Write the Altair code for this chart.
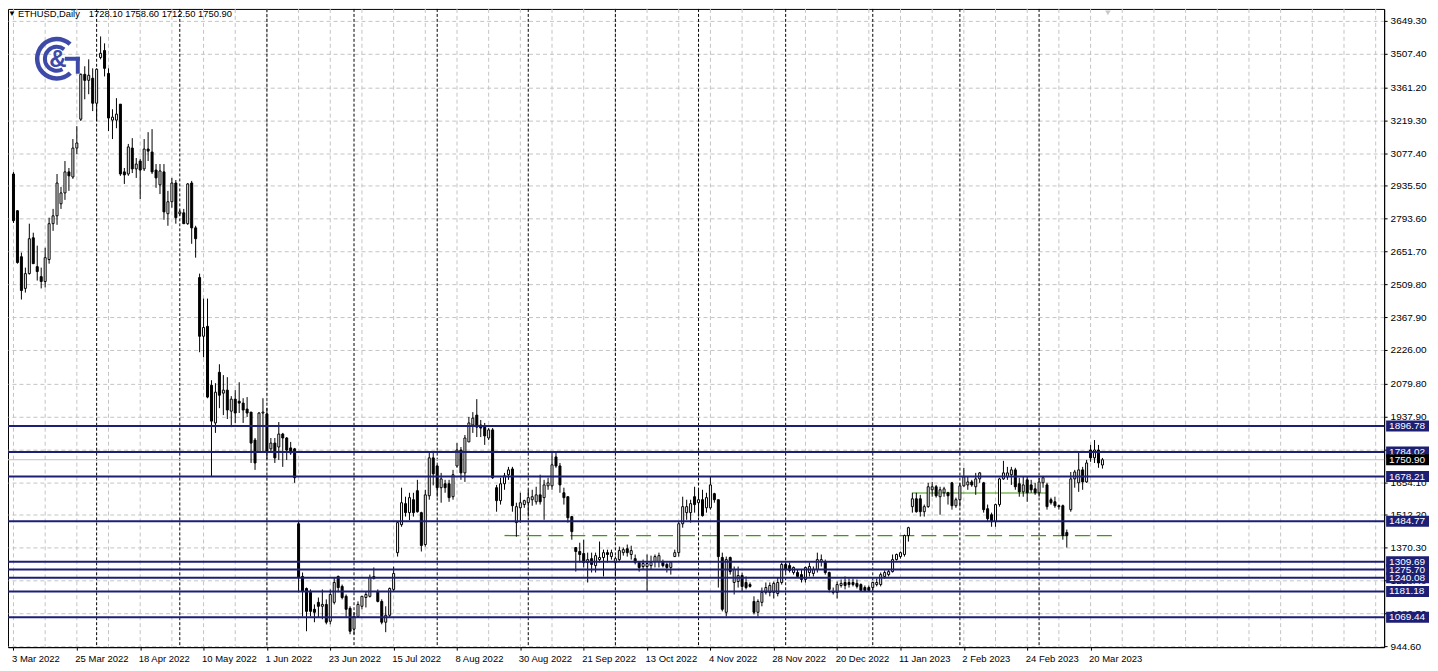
import altair as alt
import pandas as pd

# ---------------- data ----------------
header_symbol = "ETHUSD,Daily"
header_ohlc = "1728.10 1758.60 1712.50 1750.90"

opens = [2987, 2828, 2629, 2492, 2556, 2711, 2586, 2543, 2522, 2617,
         2772, 2806, 2858, 2905, 2996, 2974, 3099, 3224, 3418, 3392,
         3401, 3293, 3491, 3521, 3422, 3220, 3220, 3289, 2996, 2987,
         3099, 3009, 3043, 3009, 3095, 3082, 3004, 2940, 2996, 2815,
         2867, 2948, 2815, 2819, 2772, 2948, 2754, 2539, 2285, 2328,
         2073, 1910, 2129, 2039, 2052, 1961, 2013, 2004, 1996, 1970,
         1957, 1836, 1785, 1953, 1949, 1798, 1823, 1806, 1862, 1845,
         1802, 1798, 1474, 1246, 1194, 1177, 1104, 1134, 1117, 1125,
         1052, 1134, 1246, 1203, 1160, 1108, 1018, 1073, 1117, 1155,
         1160, 1237, 1181, 1138, 1048, 1078, 1190, 1349, 1470, 1561,
         1522, 1578, 1617, 1522, 1384, 1595, 1759, 1724, 1630, 1647,
         1647, 1591, 1724, 1793, 1694, 1828, 1901, 1944, 1901, 1892,
         1845, 1880, 1630, 1574, 1647, 1686, 1711, 1479, 1543, 1557,
         1565, 1578, 1569, 1599, 1587, 1638, 1638, 1763, 1724, 1608,
         1591, 1505, 1371, 1354, 1345, 1306, 1323, 1293, 1319, 1328,
         1349, 1332, 1306, 1319, 1349, 1366, 1341, 1323, 1306, 1289,
         1289, 1293, 1310, 1310, 1310, 1298, 1285, 1332, 1349, 1474,
         1522, 1522, 1591, 1565, 1578, 1543, 1543, 1604, 1578, 1328,
         1091, 1328, 1220, 1224, 1250, 1220, 1211, 1138, 1091, 1134,
         1177, 1177, 1177, 1172, 1220, 1298, 1293, 1263, 1263, 1254,
         1233, 1263, 1259, 1276, 1310, 1310, 1263, 1181, 1177, 1207,
         1220, 1220, 1220, 1216, 1211, 1198, 1198, 1198, 1211, 1211,
         1246, 1254, 1267, 1319, 1332, 1341, 1423, 1548, 1582, 1582,
         1526, 1548, 1621, 1634, 1591, 1608, 1608, 1651, 1552, 1578,
         1638, 1642, 1655, 1634, 1668, 1651, 1539, 1513, 1483, 1557,
         1668, 1677, 1686, 1707, 1647, 1612, 1664, 1642, 1625, 1608,
         1651, 1642, 1578, 1569, 1552, 1552, 1436, 1535, 1668, 1651,
         1707, 1655, 1793, 1759, 1793, 1728.10]

highs = [2995, 2830, 2647, 2582, 2772, 2733, 2677, 2582, 2668, 2798,
         2836, 2987, 2931, 3043, 3013, 3138, 3194, 3422, 3453, 3483,
         3444, 3444, 3582, 3552, 3444, 3267, 3315, 3289, 3013, 3117,
         3142, 3056, 3052, 3138, 3168, 3181, 3030, 3030, 3030, 2914,
         2970, 2961, 2832, 2836, 2948, 2957, 2763, 2556, 2448, 2448,
         2095, 2082, 2164, 2117, 2108, 2026, 2052, 2086, 2017, 2022,
         1957, 1845, 1957, 2017, 1974, 1845, 1845, 1914, 1867, 1849,
         1828, 1802, 1483, 1263, 1198, 1190, 1125, 1155, 1190, 1147,
         1190, 1242, 1250, 1211, 1168, 1117, 1091, 1138, 1160, 1181,
         1254, 1285, 1190, 1147, 1117, 1198, 1289, 1483, 1630, 1591,
         1608, 1608, 1664, 1526, 1621, 1780, 1785, 1729, 1694, 1664,
         1664, 1707, 1823, 1806, 1858, 1936, 1957, 2013, 1923, 1910,
         1888, 1888, 1642, 1673, 1694, 1720, 1720, 1565, 1608, 1578,
         1621, 1621, 1634, 1686, 1664, 1673, 1785, 1785, 1737, 1630,
         1591, 1505, 1371, 1392, 1405, 1349, 1349, 1349, 1397, 1362,
         1362, 1362, 1332, 1375, 1371, 1384, 1379, 1341, 1310, 1319,
         1341, 1336, 1341, 1349, 1319, 1306, 1310, 1362, 1483, 1591,
         1578, 1578, 1634, 1621, 1621, 1608, 1677, 1608, 1578, 1349,
         1332, 1332, 1289, 1289, 1263, 1246, 1220, 1160, 1147, 1198,
         1220, 1220, 1224, 1242, 1306, 1306, 1306, 1289, 1276, 1276,
         1289, 1306, 1289, 1349, 1341, 1319, 1267, 1198, 1224, 1233,
         1246, 1237, 1237, 1233, 1216, 1207, 1207, 1224, 1237, 1263,
         1272, 1276, 1341, 1345, 1354, 1427, 1461, 1608, 1608, 1599,
         1557, 1651, 1655, 1642, 1634, 1634, 1612, 1655, 1587, 1651,
         1716, 1677, 1664, 1694, 1698, 1655, 1557, 1522, 1561, 1673,
         1746, 1720, 1720, 1716, 1673, 1677, 1677, 1664, 1651, 1673,
         1677, 1651, 1587, 1591, 1557, 1557, 1449, 1698, 1707, 1785,
         1720, 1750, 1815, 1836, 1815, 1758.60]

lows = [2775, 2599, 2444, 2474, 2552, 2599, 2526, 2492, 2496, 2599,
        2741, 2767, 2836, 2875, 2914, 2966, 3073, 3216, 3310, 3332,
        3259, 3216, 3483, 3409, 3173, 3138, 3185, 2979, 2944, 2979,
        2991, 2970, 2879, 3000, 3043, 2987, 2927, 2900, 2789, 2763,
        2841, 2772, 2806, 2772, 2767, 2685, 2625, 2216, 2194, 2017,
        1677, 1867, 1974, 1944, 1927, 1892, 1910, 1953, 1910, 1936,
        1737, 1707, 1780, 1785, 1750, 1780, 1737, 1750, 1720, 1750,
        1772, 1651, 1177, 1073, 1009, 1073, 1048, 1069, 1061, 1039,
        1039, 1125, 1177, 1147, 1069, 996, 996, 1069, 1104, 1112,
        1155, 1233, 1134, 1039, 1005, 1069, 1181, 1332, 1461, 1505,
        1490, 1505, 1522, 1354, 1375, 1578, 1640, 1591, 1565, 1608,
        1569, 1578, 1716, 1664, 1655, 1828, 1867, 1849, 1849, 1815,
        1836, 1668, 1526, 1557, 1621, 1664, 1526, 1418, 1479, 1543,
        1505, 1552, 1557, 1557, 1491, 1621, 1621, 1716, 1608, 1557,
        1479, 1405, 1267, 1306, 1285, 1220, 1263, 1263, 1306, 1246,
        1306, 1319, 1246, 1310, 1336, 1332, 1319, 1298, 1267, 1276,
        1181, 1276, 1285, 1285, 1285, 1263, 1254, 1332, 1332, 1457,
        1491, 1479, 1522, 1505, 1505, 1522, 1535, 1565, 1198, 1095,
        1073, 1254, 1168, 1198, 1181, 1190, 1198, 1082, 1073, 1117,
        1168, 1160, 1151, 1160, 1211, 1263, 1263, 1254, 1242, 1220,
        1220, 1246, 1246, 1263, 1289, 1254, 1177, 1168, 1151, 1198,
        1190, 1198, 1203, 1194, 1181, 1181, 1181, 1181, 1203, 1203,
        1237, 1246, 1263, 1315, 1323, 1332, 1397, 1522, 1522, 1505,
        1505, 1543, 1591, 1587, 1513, 1591, 1557, 1535, 1543, 1548,
        1634, 1621, 1634, 1599, 1651, 1522, 1483, 1461, 1461, 1548,
        1664, 1664, 1642, 1621, 1591, 1591, 1569, 1608, 1599, 1591,
        1630, 1535, 1557, 1543, 1535, 1405, 1371, 1526, 1630, 1612,
        1621, 1651, 1742, 1737, 1716, 1712.50]

closes = [2785, 2604, 2483, 2556, 2707, 2599, 2565, 2522, 2625, 2772,
          2806, 2948, 2905, 2996, 2979, 3099, 3121, 3418, 3392, 3414,
          3293, 3440, 3509, 3444, 3229, 3233, 3246, 2987, 2983, 3104,
          3009, 3030, 3004, 3095, 3086, 2996, 2970, 3000, 2823, 2867,
          2948, 2798, 2823, 2772, 2944, 2754, 2707, 2285, 2323, 2022,
          1918, 2043, 2030, 2052, 1966, 2013, 1953, 1996, 1966, 1953,
          1823, 1737, 1953, 1957, 1785, 1823, 1759, 1862, 1845, 1793,
          1780, 1673, 1242, 1181, 1095, 1095, 1091, 1117, 1125, 1048,
          1168, 1220, 1198, 1155, 1104, 1009, 1073, 1125, 1160, 1168,
          1242, 1246, 1138, 1048, 1078, 1194, 1259, 1479, 1565, 1522,
          1587, 1522, 1526, 1380, 1599, 1759, 1690, 1630, 1668, 1630,
          1587, 1686, 1793, 1694, 1845, 1910, 1931, 1892, 1888, 1854,
          1880, 1673, 1574, 1647, 1681, 1707, 1552, 1548, 1565, 1574,
          1587, 1591, 1599, 1569, 1642, 1651, 1729, 1724, 1642, 1587,
          1500, 1440, 1354, 1341, 1306, 1319, 1298, 1336, 1328, 1349,
          1341, 1349, 1323, 1358, 1362, 1349, 1358, 1306, 1285, 1302,
          1302, 1306, 1332, 1336, 1293, 1285, 1306, 1349, 1474, 1548,
          1548, 1561, 1557, 1578, 1509, 1587, 1642, 1578, 1332, 1104,
          1319, 1267, 1276, 1250, 1203, 1198, 1203, 1091, 1138, 1177,
          1198, 1207, 1216, 1220, 1298, 1276, 1272, 1285, 1246, 1233,
          1285, 1289, 1276, 1319, 1319, 1263, 1190, 1177, 1211, 1216,
          1207, 1211, 1211, 1203, 1186, 1186, 1186, 1220, 1220, 1254,
          1263, 1267, 1319, 1341, 1349, 1423, 1457, 1582, 1526, 1526,
          1548, 1634, 1634, 1595, 1621, 1625, 1595, 1552, 1578, 1638,
          1677, 1655, 1642, 1668, 1694, 1535, 1496, 1483, 1557, 1668,
          1694, 1694, 1707, 1634, 1612, 1642, 1608, 1621, 1608, 1655,
          1673, 1548, 1565, 1552, 1548, 1423, 1423, 1668, 1698, 1707,
          1655, 1737, 1759, 1793, 1737, 1750.90]

x_label_bars = [0, 16, 32, 48, 64, 80, 96, 112, 128, 144, 160, 176, 192,
                208, 224, 240, 256, 272]
x_labels = ["3 Mar 2022", "25 Mar 2022", "18 Apr 2022", "10 May 2022",
            "1 Jun 2022", "23 Jun 2022", "15 Jul 2022", "8 Aug 2022",
            "30 Aug 2022", "21 Sep 2022", "13 Oct 2022", "4 Nov 2022",
            "28 Nov 2022", "20 Dec 2022", "11 Jan 2023", "2 Feb 2023",
            "24 Feb 2023", "20 Mar 2023"]
month_start_bars = [21, 42, 64, 86, 107, 130, 152, 173, 195, 217, 239, 259]

y_ticks = [3649.30, 3507.40, 3361.20, 3219.30, 3077.40, 2935.50, 2793.60,
           2651.70, 2509.80, 2367.90, 2226.00, 2079.80, 1937.90, 1796.00,
           1654.10, 1512.20, 1370.30, 1228.40, 1086.50, 944.60]

level_prices = [1275.70, 1896.78, 1784.02, 1678.21, 1484.77, 1309.69,
                1240.08, 1181.18, 1069.44]
last_price = 1750.90

support_price = [1423.0]
support_from = [124]
support_to = [278]
neck_price = [1607.0]
neck_from = [227]
neck_to = [261]

# ---------------- layout / style ----------------
W, H = 1380, 640
X_DOM = [-0.125, 344.875]
Y_DOM = [940.3, 3701.0]
NAVY = "#1c1f74"
GRID = "#c4c4c4"
LOGO = "#3d4aa8"
FONT = "Liberation Sans"
half = 5.5 * (Y_DOM[1] - Y_DOM[0]) / H

xs = alt.Scale(domain=X_DOM, nice=False, zero=False)
ys = alt.Scale(domain=Y_DOM, nice=False, zero=False)

label_expr = "[" + ",".join("'%s'" % s for s in x_labels) + "][round(datum.value / 16)]"
xaxis = alt.Axis(values=x_label_bars, labelExpr=label_expr, title=None, grid=False,
                 labelAlign="left", labelBaseline="top", labelPadding=3, tickSize=3,
                 labelOffset=-2,
                 tickColor="black", domainColor="black", labelColor="black",
                 labelFont=FONT, labelFontSize=9.5, labelFlush=False,
                 labelOverlap=False, labelBound=False, zindex=0)
yaxis = alt.Axis(orient="right", values=y_ticks, format=".2f", title=None,
                 grid=True, gridColor=GRID, gridDash=[4, 3], gridWidth=1,
                 tickSize=3, tickColor="black", domainColor="black",
                 labelColor="black", labelFont=FONT, labelFontSize=10,
                 labelPadding=3, labelFlush=False, labelOverlap=False, zindex=0)

n = len(opens)
candles = pd.DataFrame({"i": list(range(n)), "open": opens, "high": highs,
                        "low": lows, "close": closes})

X = lambda f: alt.X(f, scale=xs, axis=xaxis)
Y = lambda f: alt.Y(f, scale=ys, axis=yaxis)

# vertical grid every 8 bars
vgrid_df = pd.DataFrame({"g": list(range(0, int(X_DOM[1]) + 1, 8))})
vgrid = alt.Chart(vgrid_df).mark_rule(color=GRID, strokeDash=[4, 3], strokeWidth=1).encode(x=X("g:Q"))

months_df = pd.DataFrame({"m": month_start_bars})
months = alt.Chart(months_df).mark_rule(color="black", strokeDash=[3, 2], strokeWidth=1).encode(x=X("m:Q"))

neck_df = pd.DataFrame({"a": neck_from, "b": neck_to, "p": neck_price})
neck = alt.Chart(neck_df).mark_rule(color="#3f9a0a", strokeWidth=1.2).encode(
    x=X("a:Q"), x2="b:Q", y=Y("p:Q"))

sup_df = pd.DataFrame({"a": support_from, "b": support_to, "p": support_price})
support = alt.Chart(sup_df).mark_rule(color="#3f9a0a", strokeWidth=1.3, strokeDash=[15, 7]).encode(
    x=X("a:Q"), x2="b:Q", y=Y("p:Q"))

last_df = pd.DataFrame({"p": [last_price], "label": ["%.2f" % last_price]})
last_line = alt.Chart(last_df).mark_rule(color="#c0c0c0", strokeWidth=1).encode(y=Y("p:Q"))

wicks = alt.Chart(candles).mark_rule(color="black", strokeWidth=1).encode(
    x=X("i:Q"), y=Y("low:Q"), y2="high:Q")
bodies = alt.Chart(candles).mark_bar(size=2, stroke="black", strokeWidth=1).encode(
    x=X("i:Q"), y=Y("open:Q"), y2="close:Q",
    fill=alt.condition("datum.close >= datum.open", alt.value("white"), alt.value("black")))

lv_df = pd.DataFrame({"p": level_prices, "label": ["%.2f" % p for p in level_prices]})
levels = alt.Chart(lv_df).mark_rule(color=NAVY, strokeWidth=2).encode(y=Y("p:Q"))

flag_calc = dict(lo="datum.p - %f" % half, hi="datum.p + %f" % half)
lv_flags = alt.Chart(lv_df).transform_calculate(**flag_calc).mark_rect(color=NAVY).encode(
    x=alt.value(W + 2), x2=alt.value(W + 45), y=Y("lo:Q"), y2="hi:Q")
lv_text = alt.Chart(lv_df).mark_text(align="left", baseline="middle", color="white",
                                     font=FONT, fontSize=10).encode(
    x=alt.value(W + 5), y=Y("p:Q"), text="label:N")
last_flag = alt.Chart(last_df).transform_calculate(**flag_calc).mark_rect(color="black").encode(
    x=alt.value(W + 2), x2=alt.value(W + 45), y=Y("lo:Q"), y2="hi:Q")
last_text = alt.Chart(last_df).mark_text(align="left", baseline="middle", color="white",
                                         font=FONT, fontSize=10).encode(
    x=alt.value(W + 5), y=Y("p:Q"), text="label:N")

one = pd.DataFrame({"k": [0]})
hdr_tri = alt.Chart(one).mark_text(text="\u25BC", fontSize=8, color="black", align="left",
                                   baseline="middle").encode(x=alt.value(0), y=alt.value(5))
hdr_sym = alt.Chart(one).mark_text(text=header_symbol, font=FONT, fontSize=9.4, color="black",
                                   align="left", baseline="middle").encode(x=alt.value(10), y=alt.value(5))
hdr_ohlc = alt.Chart(one).mark_text(text=header_ohlc, font=FONT, fontSize=9.4, color="black",
                                    align="left", baseline="middle").encode(x=alt.value(81), y=alt.value(5))

arc_outer = alt.Chart(one).mark_arc(radius=22, radius2=17.5, theta=2.39, theta2=7.02, color=LOGO).encode(
    x=alt.value(49), y=alt.value(50))
arc_inner = alt.Chart(one).mark_arc(radius=14, radius2=10, theta=2.65, theta2=6.94, color=LOGO).encode(
    x=alt.value(49), y=alt.value(50))
g_bar = alt.Chart(one).mark_rect(color=LOGO).encode(
    x=alt.value(57), x2=alt.value(72), y=alt.value(48), y2=alt.value(52))
g_stem = alt.Chart(one).mark_rect(color=LOGO).encode(
    x=alt.value(68), x2=alt.value(72), y=alt.value(48), y2=alt.value(65))
amp = alt.Chart(one).mark_text(text="&", font=FONT, fontSize=24, fontWeight="bold", color=LOGO,
                               align="center", baseline="middle").encode(x=alt.value(50), y=alt.value(51))
shift_mark = alt.Chart(one).mark_point(shape="triangle-down", filled=True, color="#c8c8c8",
                                       size=30, opacity=1).encode(x=alt.value(1103), y=alt.value(4))

chart = alt.layer(
    vgrid, months, neck, support, last_line, wicks, bodies, levels,
    lv_flags, lv_text, last_flag, last_text,
    arc_outer, arc_inner, g_bar, g_stem, amp,
    hdr_tri, hdr_sym, hdr_ohlc, shift_mark
).properties(
    width=W, height=H,
    autosize=alt.AutoSizeParams(type="none"),
    padding={"left": 0, "top": 0, "right": 46, "bottom": 20}
).configure(background="white", font=FONT).configure_view(stroke="black", strokeWidth=1)

chart.save("out.html", embed_options={"renderer": "svg", "actions": False})
